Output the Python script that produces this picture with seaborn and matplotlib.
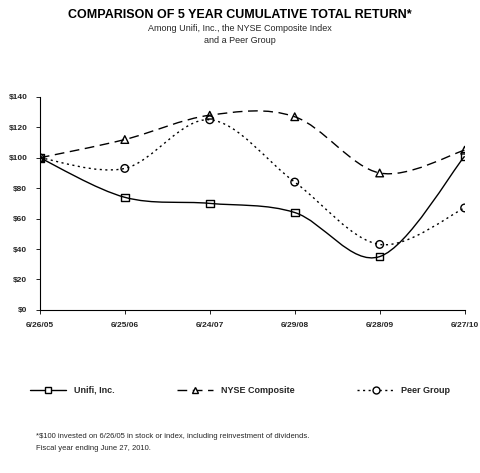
import matplotlib
matplotlib.use("Agg")
import matplotlib.pyplot as plt
import seaborn as sns
import numpy as np
import pandas as pd
from matplotlib.path import Path
from matplotlib.patches import PathPatch
from matplotlib.lines import Line2D

dates = ["6/26/05", "6/25/06", "6/24/07", "6/29/08", "6/28/09", "6/27/10"]
unifi = [100, 74, 70, 64, 35, 101]
nyse = [100, 112, 128, 127, 90, 105]
peer = [100, 93, 125, 84, 43, 67]

sns.set_style("white")
plt.rcParams['font.family'] = ['Liberation Sans', 'DejaVu Sans']

fig = plt.figure(figsize=(4.8, 4.73), dpi=100)
ax = fig.add_axes([0.083, 0.345, 0.885, 0.45])

series = [("Unifi, Inc.", unifi, "-", "s"),
          ("NYSE Composite", nyse, (0, (7, 4)), "^"),
          ("Peer Group", peer, (0, (1.5, 2.5)), "o")]

def smooth_path(ys):
    pts = np.column_stack([np.arange(len(ys)), np.array(ys, float)])
    verts = [pts[0]]; codes = [Path.MOVETO]
    n = len(pts)
    for i in range(n - 1):
        p0 = pts[max(i - 1, 0)]; p1 = pts[i]; p2 = pts[i + 1]; p3 = pts[min(i + 2, n - 1)]
        c1 = p1 + (p2 - p0) / 6; c2 = p2 - (p3 - p1) / 6
        verts += [c1, c2, p2]; codes += [Path.CURVE4] * 3
    return Path(verts, codes)

rows = []
for name, ys, ls, mk in series:
    ax.add_patch(PathPatch(smooth_path(ys), fill=False, lw=1.0, ls=ls, color="black"))
    for i, v in enumerate(ys):
        rows.append({"x": i, "y": v, "s": name})
df = pd.DataFrame(rows)
for name, ys, ls, mk in series:
    sub = df[df.s == name]
    sns.scatterplot(data=sub, x="x", y="y", marker=mk, s=30, facecolor="none",
                    edgecolor="black", linewidth=1.0, ax=ax, zorder=3, legend=False)

ax.set_xlim(0, 5)
ax.set_ylim(0, 140)
ax.set_xticks(range(6))
ax.set_xticklabels(dates, fontsize=6, fontweight="bold")
ax.set_yticks(range(0, 141, 20))
ax.set_yticklabels([f"${v}" for v in range(0, 141, 20)], fontsize=6, fontweight="bold")
ax.set_xlabel(""); ax.set_ylabel("")
for s in ["top", "right"]:
    ax.spines[s].set_visible(False)
for s in ["left", "bottom"]:
    ax.spines[s].set_color("black"); ax.spines[s].set_linewidth(0.8)
ax.tick_params(axis="both", length=3, width=0.6, color="black", direction="out", left=True, bottom=True, pad=6)

fig.text(0.5, 0.963, "COMPARISON OF 5 YEAR CUMULATIVE TOTAL RETURN*", ha="center",
         fontsize=9, fontweight="bold", color="black")
fig.text(0.5, 0.935, "Among Unifi, Inc., the NYSE Composite Index", ha="center", fontsize=6.5)
fig.text(0.5, 0.91, "and a Peer Group", ha="center", fontsize=6.5)

handles = [Line2D([0], [0], color="black", lw=1.0, ls=ls, marker=mk, markersize=5,
                  markerfacecolor="white", markeredgecolor="black") for _, _, ls, mk in series]
fig.legend(handles, [s[0] for s in series], loc="center", bbox_to_anchor=(0.5, 0.175),
           ncol=3, frameon=False, handlelength=4, columnspacing=7,
           prop={"weight": "bold", "size": 6.5})

fig.text(0.075, 0.073, "*$100 invested on 6/26/05 in stock or index, including reinvestment of dividends.", fontsize=5.5)
fig.text(0.075, 0.048, "Fiscal year ending June 27, 2010.", fontsize=5.5)

fig.savefig("out.png", dpi=100)
